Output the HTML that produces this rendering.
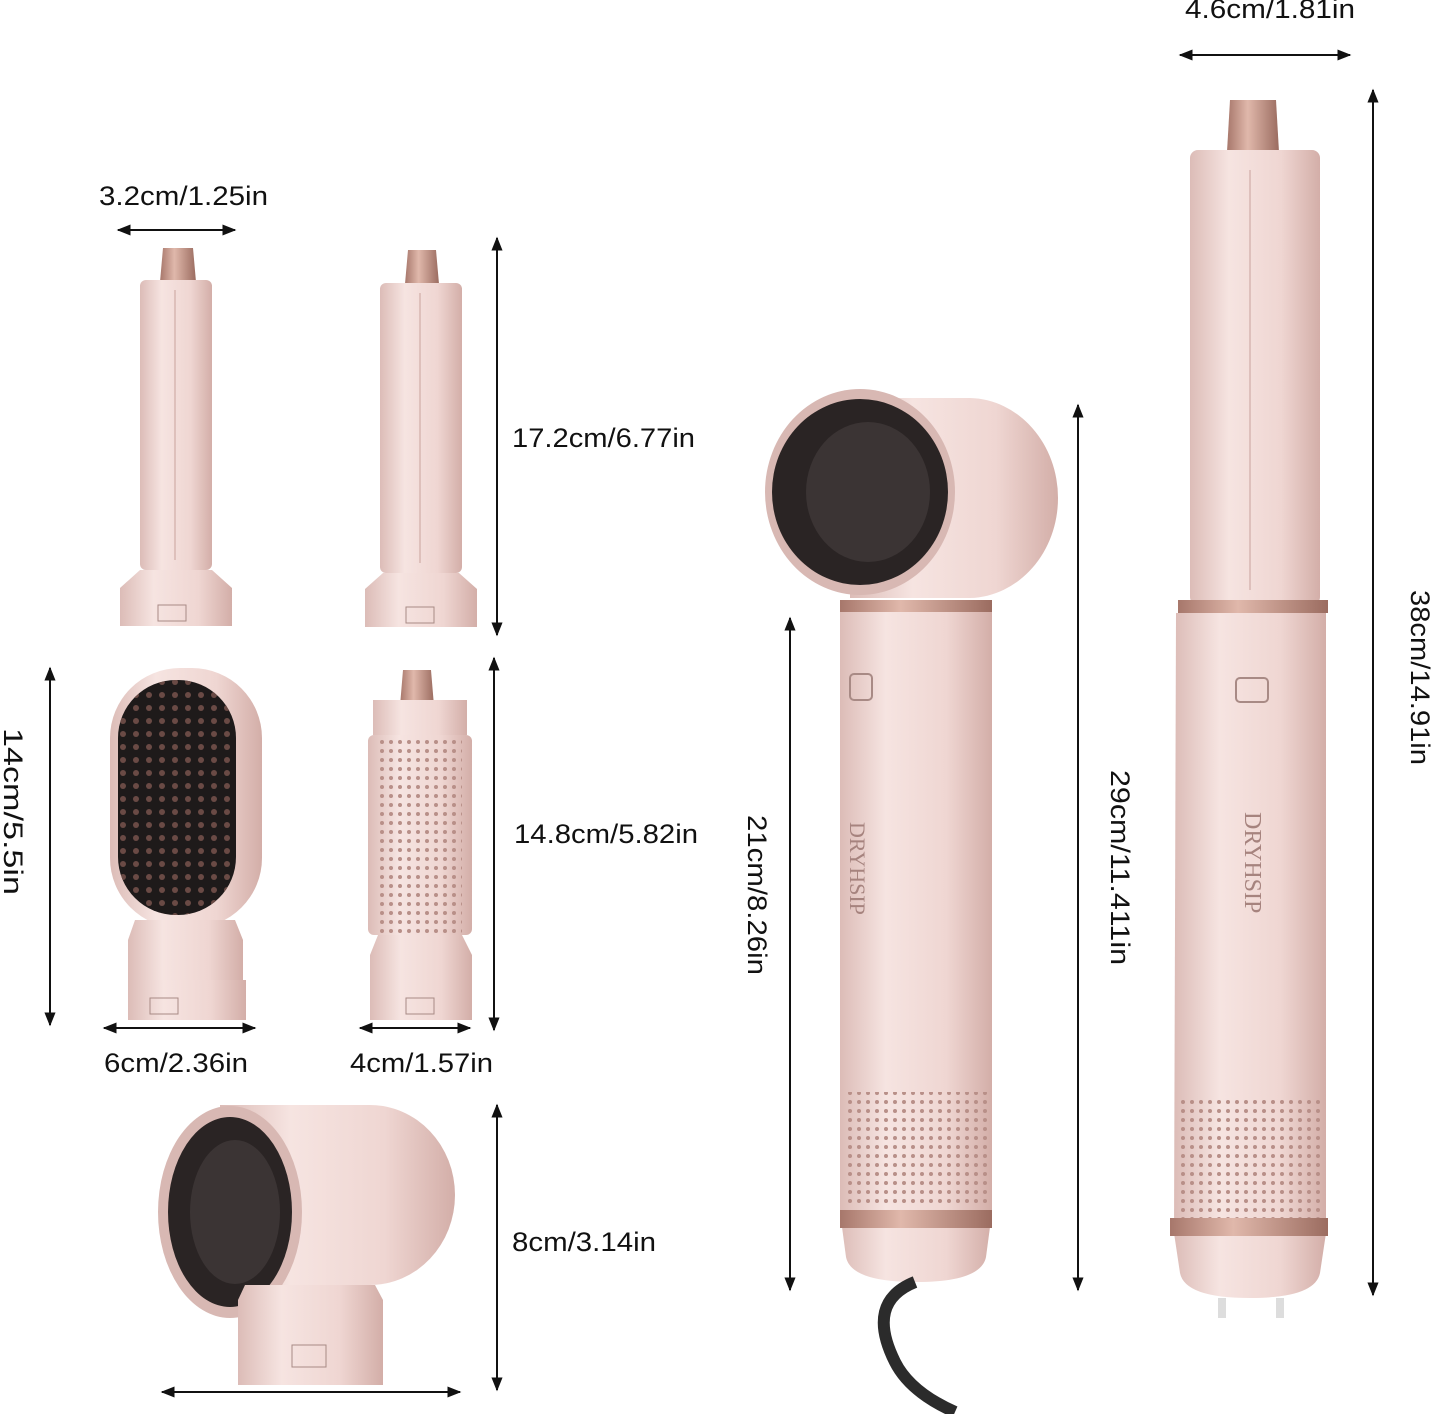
<!DOCTYPE html>
<html><head><meta charset="utf-8"><style>
html,body{margin:0;padding:0;background:#fff}
svg{display:block}
text{font-family:"Liberation Sans",sans-serif;font-size:27px;fill:#111}
</style></head><body>
<svg width="1437" height="1414" viewBox="0 0 1437 1414" xmlns="http://www.w3.org/2000/svg">
<defs>
<linearGradient id="pk" x1="0" x2="1" y1="0" y2="0">
<stop offset="0" stop-color="#dcbcb7"/><stop offset="0.3" stop-color="#f6e4e1"/><stop offset="0.7" stop-color="#efd6d2"/><stop offset="1" stop-color="#d3aea8"/></linearGradient>
<linearGradient id="rg" x1="0" x2="1"><stop offset="0" stop-color="#a7776b"/><stop offset="0.4" stop-color="#e0b8ab"/><stop offset="1" stop-color="#9b6c60"/></linearGradient>
<marker id="a" viewBox="0 0 10 10" refX="9" refY="5" markerWidth="7" markerHeight="7" orient="auto-start-reverse"><path d="M0,1 L10,5 L0,9 z" fill="#111"/></marker>
<pattern id="dots" width="9" height="9" patternUnits="userSpaceOnUse"><circle cx="4" cy="4" r="2" fill="#b88f88"/></pattern>
<pattern id="bd" width="13" height="13" patternUnits="userSpaceOnUse"><circle cx="6" cy="6" r="3" fill="#6a4a45"/></pattern>
</defs>

<g stroke="#111" stroke-width="2" fill="none">
<line x1="1180" y1="55" x2="1350" y2="55" marker-start="url(#a)" marker-end="url(#a)"/>
<line x1="1373" y1="90" x2="1373" y2="1295" marker-start="url(#a)" marker-end="url(#a)"/>
<line x1="1078" y1="405" x2="1078" y2="1290" marker-start="url(#a)" marker-end="url(#a)"/>
<line x1="790" y1="618" x2="790" y2="1290" marker-start="url(#a)" marker-end="url(#a)"/>
<line x1="118" y1="230" x2="235" y2="230" marker-start="url(#a)" marker-end="url(#a)"/>
<line x1="497" y1="238" x2="497" y2="635" marker-start="url(#a)" marker-end="url(#a)"/>
<line x1="50" y1="668" x2="50" y2="1025" marker-start="url(#a)" marker-end="url(#a)"/>
<line x1="104" y1="1028" x2="255" y2="1028" marker-start="url(#a)" marker-end="url(#a)"/>
<line x1="494" y1="658" x2="494" y2="1030" marker-start="url(#a)" marker-end="url(#a)"/>
<line x1="360" y1="1028" x2="470" y2="1028" marker-start="url(#a)" marker-end="url(#a)"/>
<line x1="497" y1="1105" x2="497" y2="1390" marker-start="url(#a)" marker-end="url(#a)"/>
<line x1="162" y1="1392" x2="460" y2="1392" marker-start="url(#a)" marker-end="url(#a)"/>
</g>

<text x="1185" y="18" textLength="170" lengthAdjust="spacingAndGlyphs">4.6cm/1.81in</text>
<text x="99" y="205" textLength="169" lengthAdjust="spacingAndGlyphs">3.2cm/1.25in</text>
<text x="512" y="447" textLength="183" lengthAdjust="spacingAndGlyphs">17.2cm/6.77in</text>
<text x="514" y="843" textLength="184" lengthAdjust="spacingAndGlyphs">14.8cm/5.82in</text>
<text x="104" y="1072" textLength="144" lengthAdjust="spacingAndGlyphs">6cm/2.36in</text>
<text x="350" y="1072" textLength="143" lengthAdjust="spacingAndGlyphs">4cm/1.57in</text>
<text x="512" y="1251" textLength="144" lengthAdjust="spacingAndGlyphs">8cm/3.14in</text>
<text transform="translate(1411,590) rotate(90)" textLength="175" lengthAdjust="spacingAndGlyphs">38cm/14.91in</text>
<text transform="translate(1111,770) rotate(90)" textLength="195" lengthAdjust="spacingAndGlyphs">29cm/11.411in</text>
<text transform="translate(748,815) rotate(90)" textLength="160" lengthAdjust="spacingAndGlyphs">21cm/8.26in</text>
<text transform="translate(4,728) rotate(90)" textLength="167" lengthAdjust="spacingAndGlyphs">14cm/5.5in</text>

<!-- curler 1 -->
<g>
<path d="M163,248 h30 l3,34 h-36 z" fill="url(#rg)"/>
<rect x="140" y="280" width="72" height="290" rx="6" fill="url(#pk)"/>
<line x1="175" y1="290" x2="175" y2="560" stroke="#c9a29c"/>
<path d="M140,570 h72 l20,18 v38 h-112 v-38 z" fill="url(#pk)"/>
<rect x="158" y="605" width="28" height="16" fill="none" stroke="#a88a85"/>
</g>
<!-- curler 2 -->
<g>
<path d="M408,250 h28 l3,34 h-34 z" fill="url(#rg)"/>
<rect x="380" y="283" width="82" height="290" rx="6" fill="url(#pk)"/>
<line x1="420" y1="293" x2="420" y2="563" stroke="#c9a29c"/>
<path d="M383,573 h76 l18,16 v38 h-112 v-38 z" fill="url(#pk)"/>
<rect x="406" y="607" width="28" height="16" fill="none" stroke="#a88a85"/>
</g>
<!-- paddle brush -->
<g>
<rect x="110" y="668" width="152" height="260" rx="70" fill="url(#pk)"/>
<rect x="118" y="680" width="118" height="235" rx="58" fill="#1e1a1a"/>
<rect x="118" y="680" width="118" height="235" rx="58" fill="url(#bd)"/>
<path d="M135,920 h100 l8,20 v40 h-115 v-40 z" fill="url(#pk)"/>
<path d="M128,980 h118 v40 h-118 z" fill="url(#pk)"/>
<rect x="150" y="998" width="28" height="16" fill="none" stroke="#a88a85"/>
</g>
<!-- round brush -->
<g>
<path d="M403,670 h28 l3,36 h-34 z" fill="url(#rg)"/>
<rect x="368" y="735" width="104" height="200" rx="6" fill="url(#pk)"/>
<rect x="378" y="740" width="84" height="195" fill="url(#dots)"/>
<rect x="373" y="700" width="94" height="35" fill="url(#pk)"/>
<path d="M378,935 h84 l10,20 v65 h-102 v-65 z" fill="url(#pk)"/>
<rect x="406" y="998" width="28" height="16" fill="none" stroke="#a88a85"/>
</g>
<!-- diffuser head -->
<g>
<path d="M220,1105 h150 a85,90 0 0 1 85,90 a85,90 0 0 1 -85,90 h-150 z" fill="url(#pk)"/>
<ellipse cx="230" cy="1212" rx="72" ry="106" fill="#d8b8b3"/>
<ellipse cx="230" cy="1212" rx="62" ry="95" fill="#2a2424"/>
<ellipse cx="235" cy="1212" rx="45" ry="72" fill="#3b3434"/>
<path d="M245,1285 h130 l8,15 v85 h-145 v-85 z" fill="url(#pk)"/>
<rect x="292" y="1345" width="34" height="22" fill="none" stroke="#a88a85"/>
</g>
<!-- dryer -->
<g>
<path d="M850,398 h120 a90,100 0 0 1 88,100 a90,100 0 0 1 -88,100 h-120 z" fill="url(#pk)"/>
<ellipse cx="860" cy="492" rx="95" ry="103" fill="#d8b8b3"/>
<ellipse cx="860" cy="492" rx="88" ry="93" fill="#2a2424"/>
<ellipse cx="868" cy="492" rx="62" ry="70" fill="#3b3434"/>
<rect x="840" y="600" width="152" height="12" fill="url(#rg)"/>
<path d="M840,612 h152 v600 l-6,45 q-5,25 -70,25 q-65,0 -70,-25 l-6,-45 z" fill="url(#pk)"/>
<rect x="850" y="674" width="22" height="26" rx="4" fill="none" stroke="#a88a85" stroke-width="2"/>
<rect x="846" y="1092" width="142" height="115" fill="url(#dots)"/>
<rect x="840" y="1210" width="152" height="18" fill="url(#rg)"/>
<text transform="translate(850,822) rotate(90)" style="font-family:'Liberation Serif',serif;font-size:22px;fill:#a6837e">DRYHSIP</text>
<path d="M915,1282 q-50,20 -20,80 q15,30 60,50" fill="none" stroke="#2b2b2b" stroke-width="12"/>
</g>
<!-- tall curler -->
<g>
<path d="M1230,100 h46 l3,52 h-52 z" fill="url(#rg)"/>
<rect x="1190" y="150" width="130" height="455" rx="8" fill="url(#pk)"/>
<line x1="1250" y1="170" x2="1250" y2="590" stroke="#c9a29c"/>
<rect x="1178" y="600" width="150" height="13" fill="url(#rg)"/>
<path d="M1176,613 h150 v620 l-6,40 q-5,25 -70,25 q-65,0 -70,-25 l-6,-40 z" fill="url(#pk)"/>
<rect x="1236" y="678" width="32" height="24" rx="4" fill="none" stroke="#a88a85" stroke-width="2"/>
<rect x="1180" y="1098" width="142" height="120" fill="url(#dots)"/>
<rect x="1170" y="1218" width="158" height="18" fill="url(#rg)"/>
<text transform="translate(1245,812) rotate(90)" style="font-family:'Liberation Serif',serif;font-size:24px;fill:#a6837e">DRYHSIP</text>
<path d="M1222,1298 v20 M1280,1298 v20" stroke="#ddd" stroke-width="8"/>
</g>
</svg>
</body></html>
